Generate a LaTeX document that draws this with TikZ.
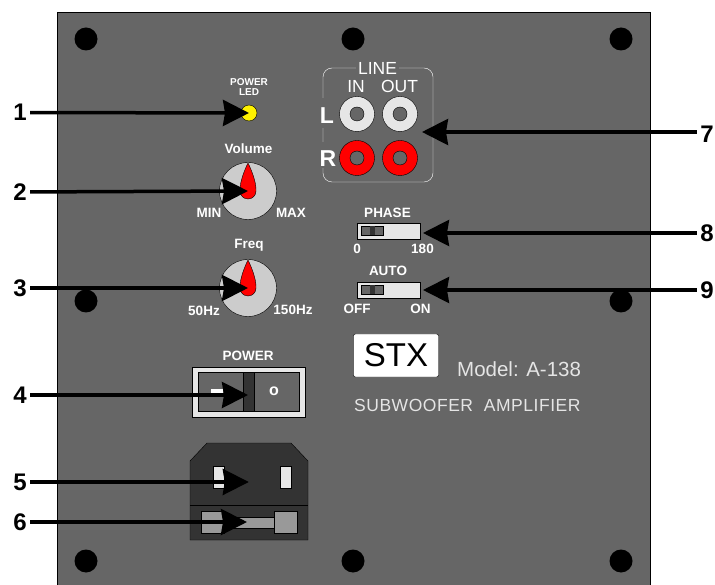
\documentclass[tikz,border=0pt]{standalone}
\usepackage{fontspec}
\setmainfont{Liberation Sans}
\usepackage{xcolor}
\usetikzlibrary{arrows.meta,positioning}
\definecolor{panelgray}{HTML}{666666}
\definecolor{knobgray}{HTML}{CCCCCC}
\definecolor{jackwhite}{HTML}{E6E6E6}
\definecolor{plugdark}{HTML}{333333}
\definecolor{fusegray}{HTML}{999999}
\newcommand{\fnt}[1]{\fontsize{#1}{#1}\selectfont}

\begin{document}
\begin{tikzpicture}[x=1pt,y=-1pt,>={Stealth[length=26pt,width=26pt,inset=2pt]}]
  \tikzstyle{hole}=[circle,fill=black,inner sep=0pt,minimum size=23pt]
  \tikzstyle{knob}=[circle,draw=black,fill=knobgray,inner sep=0pt,minimum size=57pt]
  \tikzstyle{jack}=[circle,draw=black,inner sep=0pt,minimum size=35pt]
  \tikzstyle{jackhole}=[circle,draw=black,fill=panelgray,inner sep=0pt,minimum size=14pt]
  \tikzstyle{slider}=[rectangle,draw=black,fill=jackwhite,inner sep=0pt,minimum width=63pt,minimum height=16pt]
  \tikzstyle{sliderslot}=[rectangle,draw=black,fill=panelgray,inner sep=0pt,minimum width=22pt,minimum height=9pt]
  \tikzstyle{sliderbar}=[rectangle,fill=plugdark,inner sep=0pt,minimum width=5pt,minimum height=9pt]
  \tikzstyle{tiny}=[text=white,inner sep=0pt,font=\fnt{13.5}\bfseries]
  \tikzstyle{callout}=[text=black,inner sep=0pt,minimum width=20pt,font=\fnt{24}\bfseries]
  \tikzstyle{pointer}=[->,line width=3.5pt,black]
  \tikzstyle{pin}=[rectangle,draw=black,fill=jackwhite,inner sep=0pt,minimum width=11pt,minimum height=22pt]
  \tikzstyle{fuseblock}=[rectangle,draw=black,fill=fusegray,inner sep=0pt,minimum width=23pt,minimum height=22pt]

  \useasboundingbox (0,0) rectangle (715,585);
  \fill [white] (0,0) rectangle (715,585);

  % Panel
  \fill [panelgray,draw=black,thin] (57,12) rectangle (650,590);
  \foreach \hx/\hy/\hname in {86/39/a,353/39/b,621/39/c,86/301/d,621/301/e,86/561/f,353/561/g,621/561/h}
    \node [hole] (hole\hname) at (\hx,\hy) {};

  % Led
  \node [circle,draw=black,fill=yellow,inner sep=0pt,minimum size=16pt] (led) at (249,113) {};
  \node [tiny,font=\fnt{10}\bfseries,align=center] (ledtext) at (249,87) {POWER\\[0pt]LED};

  % Knobs
  \foreach \kname/\ky in {volume/191,freq/288} {
    \node [knob] (\kname) at (248,\ky) {};
    \draw [black,fill=red] (248,\ky-28) .. controls (245,\ky-22) and (239.5,\ky-9) .. (240,\ky)
      arc [start angle=180,end angle=0,radius=8] .. controls (256.5,\ky-9) and (251,\ky-22) .. (248,\ky-28) -- cycle;
  }
  \node [tiny] (voltext) at (248.5,149) {Volume};
  \node [tiny] (mintext) at (209,213) {MIN};
  \node [tiny] (maxtext) at (291,213) {MAX};
  \node [tiny] (freqtext) at (249,245) {Freq};
  \node [tiny] (lowtext) at (204,311) {50Hz};
  \node [tiny] (hightext) at (293,310) {150Hz};

  % Line box
  \draw [white,rounded corners=9pt] (323,68) rectangle (433,182);
  \fill [panelgray] (356,60) rectangle (399,76);
  \fill [panelgray] (318,98) rectangle (330,128);
  \fill [panelgray] (318,142) rectangle (338,168);
  \node [text=white,inner sep=0pt,font=\fnt{17.5}] (linetext) at (377.5,68.5) {LINE};
  \node [text=white,inner sep=0pt,font=\fnt{17.5}] (intext) at (356,86) {IN};
  \node [text=white,inner sep=0pt,font=\fnt{17.5}] (outtext) at (399.5,86) {OUT};
  \node [text=white,inner sep=0pt,font=\fnt{23}\bfseries] (ltext) at (327,115.5) {L};
  \node [text=white,inner sep=0pt,font=\fnt{23}\bfseries] (rtext) at (328,158.5) {R};
  \foreach \jx/\jy/\jcol/\jname in {357/114/jackwhite/inl,400/114/jackwhite/outl,357/158/red/inr,400/158/red/outr} {
    \node [jack,fill=\jcol] (\jname) at (\jx,\jy) {};
    \node [jackhole] (\jname hole) at (\jx,\jy) {};
  }

  % Sliders
  \foreach \sy/\sname in {231/phase,290/auto} {
    \node [slider] (\sname) at (388.5,\sy) {};
    \node [sliderslot] (\sname slot) at (372,\sy) {};
    \node [sliderbar] (\sname bar) at (372.5,\sy) {};
  }
  \node [tiny] (phasetext) at (387.5,213) {PHASE};
  \node [tiny] (zerotext) at (357,249) {0};
  \node [tiny] (endtext) at (422.5,249) {180};
  \node [tiny] (autotext) at (388,271) {AUTO};
  \node [tiny] (offtext) at (357,309) {OFF};
  \node [tiny] (ontext) at (420.5,309) {ON};

  % Badge
  \node [rectangle,rounded corners=2pt,draw=black,fill=white,inner sep=0pt,minimum width=85pt,minimum height=43pt,
    text=black,font=\fnt{33}] (stx) at (396,355.5) {STX};
  \node [text=white!90!black,inner sep=0pt,font=\fnt{20.5},anchor=west] (model) at (457,369) {Model: A-138};
  \node [text=white!90!black,inner sep=0pt,font=\fnt{17.5},anchor=west] (subtext) at (354,405) {\addfontfeature{LetterSpace=3}SUBWOOFER\ \ AMPLIFIER};

  % Power switch
  \node [tiny] (powertext) at (248,356) {POWER};
  \node [rectangle,draw=black,fill=jackwhite,inner sep=0pt,minimum width=113pt,minimum height=50pt] (swframe) at (248.5,392) {};
  \node [rectangle,draw=black,fill=panelgray,inner sep=0pt,minimum width=101pt,minimum height=39pt] (swface) at (248.5,391.5) {};
  \node [rectangle,draw=black,fill=plugdark,inner sep=0pt,minimum width=11pt,minimum height=39pt] (swbar) at (248.5,391.5) {};
  \node [rectangle,fill=white,inner sep=0pt,minimum width=12pt,minimum height=4pt] (swdash) at (217,391) {};
  \node [text=white,inner sep=0pt,font=\fnt{16}\bfseries] (swtext) at (274,391.5) {o};

  % Plug
  \draw [black,fill=plugdark] (190,461) -- (207,443) -- (291,443) -- (308,461) -- (308,540) -- (190,540) -- cycle;
  \node [inner sep=0pt,minimum size=0pt] (plug) at (249,482) {};
  \draw [black] (190,505) -- (308,505);
  \node [pin] (pinl) at (218.5,477) {};
  \node [pin] (pinr) at (285.5,477) {};
  \node [rectangle,draw=black,fill=fusegray,inner sep=0pt,minimum width=60pt,minimum height=11pt] (fusebar) at (250,522.5) {};
  \node [fuseblock] (fusel) at (212.5,522) {};
  \node [fuseblock] (fuser) at (285.5,522) {};

  % Numbers
  \node [callout] (n1) at (20,112.5) {1};
  \node [callout] (n2) at (20,192) {2};
  \node [callout] (n3) at (20,288) {3};
  \node [callout] (n4) at (20,395) {4};
  \node [callout] (n5) at (20,482) {5};
  \node [callout] (n6) at (20,522) {6};
  \node [callout] (n7) at (707,134) {7};
  \node [callout] (n8) at (707,233) {8};
  \node [callout] (n9) at (707,290) {9};

  % Ends
  \coordinate (tip4) at (248,395);
  \coordinate (tip6) at (247,522);
  \coordinate (tip7) at (422,132);
  \coordinate (tip8) at (423,233);
  \coordinate (tip9) at (423,290);

  % Arrows
  \draw [pointer] (n1) -- (led.center);
  \draw [pointer] (n2) -- (volume.center);
  \draw [pointer] (n3) -- (freq.center);
  \draw [pointer] (n4) -- (tip4);
  \draw [pointer] (n5) -- (plug);
  \draw [pointer] (n6) -- (tip6);
  \draw [pointer] (n7.west |- tip7) -- (tip7);
  \draw [pointer] (n8) -- (tip8);
  \draw [pointer] (n9) -- (tip9);
\end{tikzpicture}
\end{document}
